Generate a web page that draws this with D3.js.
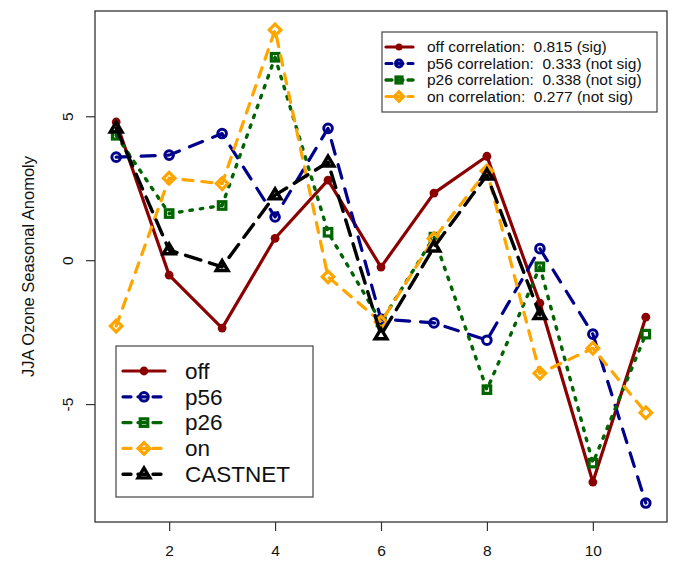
<!DOCTYPE html>
<html>
<head>
<meta charset="utf-8">
<script src="https://cdn.jsdelivr.net/npm/d3@7/dist/d3.min.js"></script>
<style>
  body { margin: 0; background: #fff; }
  text { font-family: "Liberation Sans", Arial, Helvetica, sans-serif; fill: #111; }
</style>
</head>
<body>
<div id="main"></div>
<script>
// values
const years = [1, 2, 3, 4, 5, 6, 7, 8, 9, 10, 11];
const offVals = [4.8, -0.52, -2.36, 0.76, 2.78, -0.24, 2.33, 3.61, -1.49, -7.71, -1.98];
const p56Vals = [3.58, 3.65, 4.4, 1.5, 4.58, -2.05, -2.18, -2.78, 0.4, -2.57, -8.44];
const p26Vals = [4.34, 1.62, 1.9, 7.05, 0.97, -2.15, 0.8, -4.5, -0.23, -7.05, -2.57];
const onVals = [-2.29, 2.85, 2.66, 8.0, -0.58, -2.15, 0.75, 3.1, -3.93, -3.06, -5.3];
const castnetVals = [4.58, 0.35, -0.23, 2.26, 3.4, -2.6, 0.45, 2.95, -1.9];
const xTicks = [2, 4, 6, 8, 10];
const yTicks = [-5, 0, 5];
const corrLabels = [
  "off correlation:  0.815 (sig)",
  "p56 correlation:  0.333 (not sig)",
  "p26 correlation:  0.338 (not sig)",
  "on correlation:  0.277 (not sig)"
];

const series = [
  {name: "off", vals: offVals, color: "#8B0000", dash: null, width: 3.2, shape: "dot"},
  {name: "p56", vals: p56Vals, color: "#00008B", dash: "14,11", width: 3.2, shape: "circle"},
  {name: "p26", vals: p26Vals, color: "#006400", dash: "2.5,8", width: 3.4, shape: "square"},
  {name: "on", vals: onVals, color: "#FFA500", dash: "10,9", width: 3.2, shape: "diamond"},
  {name: "CASTNET", vals: castnetVals, color: "#000000", dash: "16,9", width: 3.4, shape: "triangle"}
];

const W = 674, H = 570;
const box = {left: 95, right: 667, top: 11, bottom: 522};

const svg = d3.select("#main").append("svg")
  .attr("width", W).attr("height", H);
svg.append("rect").attr("width", W).attr("height", H).attr("fill", "#fff");

// R style 4% extension of the data range
const allY = series.flatMap(s => s.vals);
const yExt = d3.extent(allY);
const yPad = (yExt[1] - yExt[0]) * 0.04;
const xPad = (d3.max(years) - d3.min(years)) * 0.04;

const x = d3.scaleLinear()
  .domain([d3.min(years) - xPad, d3.max(years) + xPad])
  .range([box.left, box.right]);
const y = d3.scaleLinear()
  .domain([yExt[0] - yPad, yExt[1] + yPad])
  .range([box.bottom, box.top]);

// axes
const xAxis = svg.append("g")
  .attr("transform", `translate(0,${box.bottom})`)
  .call(d3.axisBottom(x).tickValues(xTicks).tickSize(9).tickPadding(14).tickFormat(d3.format("d")));
xAxis.select(".domain").remove();
xAxis.selectAll("line").attr("stroke", "#333").attr("stroke-width", 1.2);
xAxis.selectAll("text").style("font-size", "15.5px").attr("fill", "#111")
  .style("font-family", "Liberation Sans, Arial, sans-serif");

const yAxis = svg.append("g")
  .attr("transform", `translate(${box.left},0)`)
  .call(d3.axisLeft(y).tickValues(yTicks).tickSize(9).tickFormat(d3.format("d")));
yAxis.select(".domain").remove();
yAxis.selectAll("line").attr("stroke", "#333").attr("stroke-width", 1.2);
yAxis.selectAll("text").remove();
yAxis.selectAll(".tick").append("text")
  .attr("transform", "translate(-27,0) rotate(-90)")
  .attr("text-anchor", "middle")
  .attr("dy", "0.35em")
  .style("font-size", "15.5px")
  .style("font-family", "Liberation Sans, Arial, sans-serif")
  .attr("fill", "#111")
  .text(d => d);

svg.append("text")
  .attr("transform", `translate(28,${(box.top + box.bottom) / 2}) rotate(-90)`)
  .attr("text-anchor", "middle")
  .attr("dy", "0.35em")
  .style("font-size", "16.5px")
  .text("JJA Ozone Seasonal Anomoly");

function drawMarker(g, shape, cx, cy, color, scale) {
  const k = scale || 1;
  if (shape === "dot") {
    g.append("circle").attr("cx", cx).attr("cy", cy).attr("r", 4.4 * k).attr("fill", color);
  } else if (shape === "circle") {
    g.append("circle").attr("cx", cx).attr("cy", cy).attr("r", 4.3 * k)
      .attr("fill", "none").attr("stroke", color).attr("stroke-width", 3);
  } else if (shape === "square") {
    const s = 7.5 * k;
    g.append("rect").attr("x", cx - s / 2).attr("y", cy - s / 2).attr("width", s).attr("height", s)
      .attr("fill", "none").attr("stroke", color).attr("stroke-width", 3.2);
  } else if (shape === "diamond") {
    const s = 5.8 * k;
    g.append("path").attr("d", `M${cx},${cy - s}L${cx + s},${cy}L${cx},${cy + s}L${cx - s},${cy}Z`)
      .attr("fill", "none").attr("stroke", color).attr("stroke-width", 3.2);
  } else if (shape === "triangle") {
    const s = 6.2 * k;
    g.append("path").attr("d", `M${cx},${cy - s}L${cx + s * 0.95},${cy + s * 0.6}L${cx - s * 0.95},${cy + s * 0.6}Z`)
      .attr("fill", "none").attr("stroke", color).attr("stroke-width", 3.4).attr("stroke-linejoin", "miter");
  }
}

// lines and points
const line = d3.line().x((d, i) => x(years[i])).y(d => y(d));
series.forEach(s => {
  const g = svg.append("g");
  g.append("path")
    .datum(s.vals)
    .attr("d", line)
    .attr("fill", "none")
    .attr("stroke", s.color)
    .attr("stroke-width", s.width)
    .attr("stroke-linecap", "round")
    .attr("stroke-linejoin", "round")
    .attr("stroke-dasharray", s.dash);
  s.vals.forEach((v, i) => drawMarker(g, s.shape, x(years[i]), y(v), s.color));
});

// plot box
svg.append("rect")
  .attr("x", box.left).attr("y", box.top)
  .attr("width", box.right - box.left).attr("height", box.bottom - box.top)
  .attr("fill", "none").attr("stroke", "#333").attr("stroke-width", 1.3);

// correlation legend (top right)
const leg1 = svg.append("g");
leg1.append("rect").attr("x", 382).attr("y", 32).attr("width", 275).attr("height", 80)
  .attr("fill", "#fff").attr("stroke", "#444").attr("stroke-width", 1.2);
corrLabels.forEach((lab, i) => {
  const s = series[i];
  const cy = 47 + i * 16.5;
  leg1.append("line").attr("x1", 386).attr("x2", 413).attr("y1", cy).attr("y2", cy)
    .attr("stroke", s.color).attr("stroke-width", s.width)
    .attr("stroke-linecap", "round").attr("stroke-dasharray", s.dash ? "6,5" : null);
  drawMarker(leg1, s.shape, 399, cy, s.color, 0.8);
  leg1.append("text").attr("x", 427).attr("y", cy).attr("dy", "0.35em")
    .style("font-size", "15.5px").style("white-space", "pre").text(lab);
});

// series legend (bottom left)
const leg2 = svg.append("g");
leg2.append("rect").attr("x", 116).attr("y", 346).attr("width", 197).attr("height", 151)
  .attr("fill", "#fff").attr("stroke", "#444").attr("stroke-width", 1.2);
series.forEach((s, i) => {
  const cy = 371 + i * 25.8;
  leg2.append("line").attr("x1", 123).attr("x2", 165).attr("y1", cy).attr("y2", cy)
    .attr("stroke", s.color).attr("stroke-width", s.width)
    .attr("stroke-linecap", "round").attr("stroke-dasharray", s.dash ? "8,7" : null);
  drawMarker(leg2, s.shape, 144, cy, s.color, 1);
  leg2.append("text").attr("x", 185).attr("y", cy).attr("dy", "0.35em")
    .style("font-size", "22.5px").text(s.name);
});
</script>
</body>
</html>
